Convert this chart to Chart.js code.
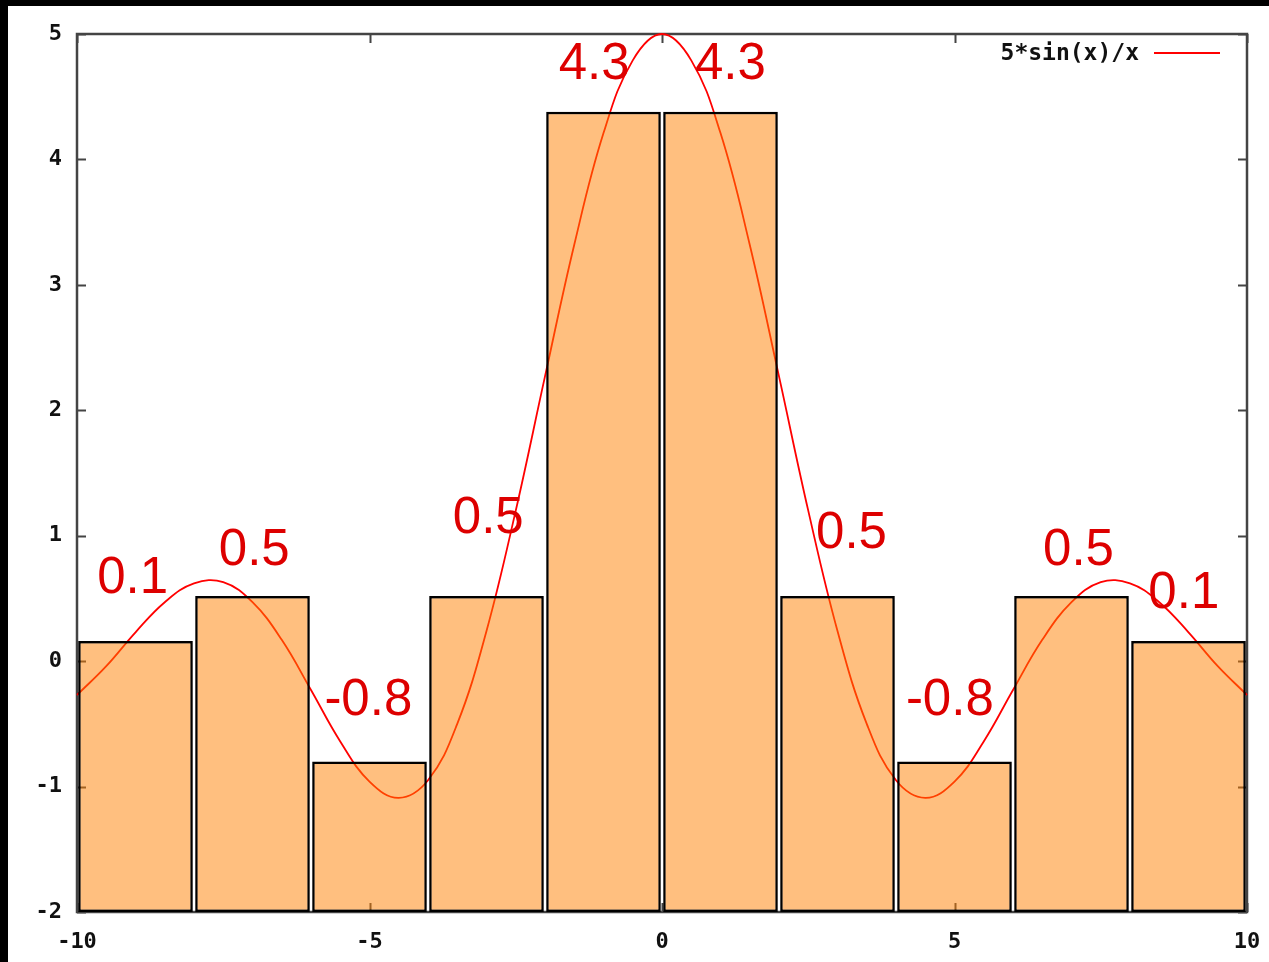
<!DOCTYPE html>
<html>
<head>
<meta charset="utf-8">
<script src="https://cdn.jsdelivr.net/npm/chart.js@4/dist/chart.umd.min.js"></script>
<style>
	html, body { margin: 0; padding: 0; background: #000; overflow: hidden; }
	#myChart { position: absolute; left: 8px; top: 6px; background: #fff; }
</style>
</head>
<body>
<canvas id="myChart" width="1261" height="956"></canvas>
<script>
// boxes (centre of each 2-wide bin) and their heights, base is the bottom of the plot
var barCenters = [-9, -7, -5, -3, -1, 1, 3, 5, 7, 9];
var barValues = [0.16, 0.52, -0.8, 0.52, 4.38, 4.38, 0.52, -0.8, 0.52, 0.16];
var barBase = -2;

// red text labels and where they sit (data units)
var barTexts = ['0.1', '0.5', '-0.8', '0.5', '4.3', '4.3', '0.5', '-0.8', '0.5', '0.1'];
var textX = [-9.05, -6.97, -5.02, -2.97, -1.16, 1.17, 3.24, 4.92, 7.12, 8.92];
var textY = [0.54, 0.77, -0.43, 1.02, 4.64, 4.64, 0.90, -0.43, 0.77, 0.42];

// curve
var curveName = '5*sin(x)/x';
var curveX = [-10, -9.5, -9, -8.5, -8, -7.5, -7, -6.5, -6, -5.5, -5, -4.5, -4, -3.5, -3, -2.5, -2, -1.5, -1, -0.5,
	0, 0.5, 1, 1.5, 2, 2.5, 3, 3.5, 4, 4.5, 5, 5.5, 6, 6.5, 7, 7.5, 8, 8.5, 9, 9.5, 10];
var curveY = [-0.27, -0.04, 0.23, 0.47, 0.62, 0.63, 0.47, 0.17, -0.23, -0.64, -0.96, -1.09, -0.95, -0.50, 0.24, 1.20, 2.27, 3.32, 4.21, 4.79,
	5.00, 4.79, 4.21, 3.32, 2.27, 1.20, 0.24, -0.50, -0.95, -1.09, -0.96, -0.64, -0.23, 0.17, 0.47, 0.63, 0.62, 0.47, 0.23, -0.04, -0.27];

var xTicks = [-10, -5, 0, 5, 10];
var yTicks = [-2, -1, 0, 1, 2, 3, 4, 5];

var tickFont = { family: 'DejaVu Sans Mono', size: 22, weight: 'bold' };
var frameColor = '#444';

function _barData() {
	var arr = [];
	barCenters.forEach(function(x, i) {
		arr.push({ x: x, y: [barBase, barValues[i]] });
	});
	return arr;
}

function _curveData() {
	var arr = [];
	curveX.forEach(function(x, i) {
		arr.push({ x: x, y: curveY[i] });
	});
	return arr;
}

// frame + inward ticks on all four sides, under the boxes
var framePlugin = {
	id: 'frame',
	beforeDatasetsDraw: function(chart) {
		var ctx = chart.ctx;
		var a = chart.chartArea;
		var xs = chart.scales.x, ys = chart.scales.y;
		ctx.save();
		ctx.strokeStyle = frameColor;
		ctx.lineWidth = 2;
		ctx.beginPath();
		xTicks.forEach(function(v) {
			var px = Math.round(xs.getPixelForValue(v)) + 0.5;
			ctx.moveTo(px, a.bottom); ctx.lineTo(px, a.bottom - 9);
			ctx.moveTo(px, a.top); ctx.lineTo(px, a.top + 9);
		});
		yTicks.forEach(function(v) {
			var py = Math.round(ys.getPixelForValue(v)) + 0.5;
			ctx.moveTo(a.left, py); ctx.lineTo(a.left + 9, py);
			ctx.moveTo(a.right, py); ctx.lineTo(a.right - 9, py);
		});
		ctx.stroke();
		ctx.lineWidth = 2.5;
		ctx.strokeRect(a.left, a.top, a.right - a.left, a.bottom - a.top);
		ctx.restore();
	}
};

// red value labels and the gnuplot style key (sample to the right of the text)
var textPlugin = {
	id: 'texts',
	afterDatasetsDraw: function(chart) {
		var ctx = chart.ctx;
		var xs = chart.scales.x, ys = chart.scales.y;
		ctx.save();
		ctx.fillStyle = '#dd0000';
		ctx.font = '51px "Liberation Sans", Arial, sans-serif';
		ctx.textAlign = 'center';
		ctx.textBaseline = 'alphabetic';
		barTexts.forEach(function(t, i) {
			ctx.fillText(t, xs.getPixelForValue(textX[i]), ys.getPixelForValue(textY[i]));
		});

		ctx.fillStyle = '#111';
		ctx.font = 'bold 23px "DejaVu Sans Mono", monospace';
		ctx.textAlign = 'right';
		ctx.textBaseline = 'middle';
		ctx.fillText(chart.data.datasets[1].label, 1131, 48);
		ctx.strokeStyle = 'rgb(255,0,0)';
		ctx.lineWidth = 2;
		ctx.beginPath();
		ctx.moveTo(1146, 47);
		ctx.lineTo(1212, 47);
		ctx.stroke();
		ctx.restore();
	}
};

var _config = {
	type: 'bar',
	data: {
		datasets: [
			{
				type: 'bar',
				label: 'boxes',
				data: _barData(),
				backgroundColor: 'rgba(255,128,0,0.5)',
				borderColor: '#000',
				borderWidth: 2.5,
				borderSkipped: false,
				barPercentage: 0.98,
				categoryPercentage: 1,
				order: 0
			},
			{
				type: 'line',
				label: curveName,
				data: _curveData(),
				borderColor: 'rgb(255,0,0)',
				borderWidth: 1.8,
				pointRadius: 0,
				fill: false,
				tension: 0.4,
				clip: false,
				order: 1
			}
		]
	},
	options: {
		responsive: false,
		animation: false,
		layout: {
			padding: { left: 0, top: 28, right: 22, bottom: 0 }
		},
		plugins: {
			legend: { display: false },
			tooltip: { enabled: false }
		},
		scales: {
			x: {
				type: 'linear',
				min: -10,
				max: 10,
				offset: false,
				grid: { display: false },
				border: { display: false },
				ticks: {
					stepSize: 5,
					color: '#111',
					font: tickFont,
					padding: 9,
					maxRotation: 0
				},
				afterFit: function(scale) {
					scale.height = 50;
					scale.paddingLeft = 0;
					scale.paddingRight = 0;
				}
			},
			y: {
				min: -2,
				max: 5,
				grid: { display: false },
				border: { display: false },
				ticks: {
					stepSize: 1,
					color: '#111',
					font: tickFont,
					padding: 7
				},
				afterFit: function(scale) {
					scale.width = 69;
					scale.paddingTop = 0;
					scale.paddingBottom = 0;
				}
			}
		}
	},
	plugins: [framePlugin, textPlugin]
};

var myChart = new Chart(document.getElementById('myChart'), _config);
</script>
</body>
</html>
